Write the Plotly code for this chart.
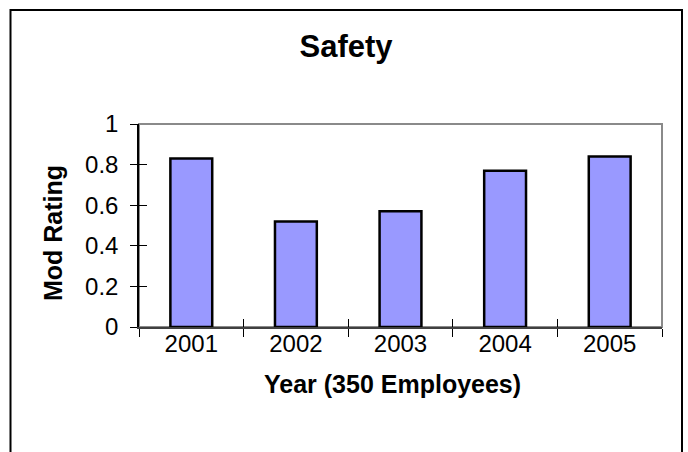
import plotly.graph_objects as go

# Safety ratings per year
years = ["2001", "2002", "2003", "2004", "2005"]
ratings = [0.83, 0.52, 0.57, 0.77, 0.84]

y_ticks = [0, 0.2, 0.4, 0.6, 0.8, 1]
y_tick_labels = ["0", "0.2", "0.4", "0.6", "0.8", "1"]

W, H = 688, 452
L, R, T, B = 139, 26, 124, 125
pw, ph = W - L - R, H - T - B

FONT = "Liberation Sans, Arial, sans-serif"

fig = go.Figure()

fig.add_trace(go.Bar(
    x=years, y=ratings,
    marker=dict(color="#9999FF", line=dict(color="black", width=2.5)),
    hoverinfo="x+y",
))
# empty trace so the overlay axes (inside tick halves) get drawn
fig.add_trace(go.Scatter(x=[], y=[], xaxis="x2", yaxis="y2", showlegend=False))


def px_x(p):
    return (p - L) / pw


def px_y(p):
    return (H - B - p) / ph


fig.update_layout(
    width=W, height=H,
    margin=dict(l=L, r=R, t=T, b=B, pad=0),
    paper_bgcolor="white", plot_bgcolor="white",
    showlegend=False,
    bargap=0.6,
    font=dict(family=FONT, color="black"),
    title=dict(text="<b>Safety</b>", x=346 / W, xanchor="center",
               y=1 - 46 / H, yanchor="middle",
               font=dict(size=31, family=FONT, color="black")),
    xaxis=dict(
        type="category", tickson="boundaries",
        ticks="outside", ticklen=8, tickwidth=1, tickcolor="black",
        showline=True, linecolor="#404040", linewidth=1.5,
        showgrid=False, zeroline=False,
        tickfont=dict(size=24), ticklabelstandoff=-6,
    ),
    yaxis=dict(
        range=[0, 1], tickvals=y_ticks, ticktext=y_tick_labels,
        ticks="outside", ticklen=7, tickwidth=1, tickcolor="black",
        showline=True, linecolor="black", linewidth=1.5,
        showgrid=False, zeroline=False,
        tickfont=dict(size=24), ticklabelstandoff=7,
    ),
    xaxis2=dict(
        overlaying="x", type="linear", range=[-0.5, 4.5],
        tick0=-0.5, dtick=1, ticks="inside", ticklen=8, tickwidth=1,
        tickcolor="black", showticklabels=False, showgrid=False,
        zeroline=False, showline=False, anchor="y2",
    ),
    yaxis2=dict(
        overlaying="y", range=[0, 1], tickvals=y_ticks,
        ticks="inside", ticklen=8, tickwidth=1, tickcolor="black",
        showticklabels=False, showgrid=False, zeroline=False,
        showline=False, anchor="x2",
    ),
    shapes=[
        # gray plot frame
        dict(type="rect", xref="paper", yref="paper", x0=0, x1=1, y0=0, y1=1,
             line=dict(color="#8a8a8a", width=2), layer="below"),
        # outer chart border (bottom edge runs past the page)
        dict(type="rect", xref="paper", yref="paper",
             x0=px_x(10.5), x1=px_x(682), y0=px_y(480), y1=px_y(10),
             line=dict(color="black", width=2), layer="above"),
    ],
    annotations=[
        dict(text="<b>Mod Rating</b>", xref="paper", yref="paper",
             x=px_x(53), y=px_y(233), textangle=-90, showarrow=False,
             xanchor="center", yanchor="middle",
             font=dict(size=25, family=FONT, color="black")),
        dict(text="<b>Year (350 Employees)</b>", xref="paper", yref="paper",
             x=px_x(392), y=px_y(384), showarrow=False,
             xanchor="center", yanchor="middle",
             font=dict(size=25, family=FONT, color="black")),
    ],
)

fig.write_html("out.html")
